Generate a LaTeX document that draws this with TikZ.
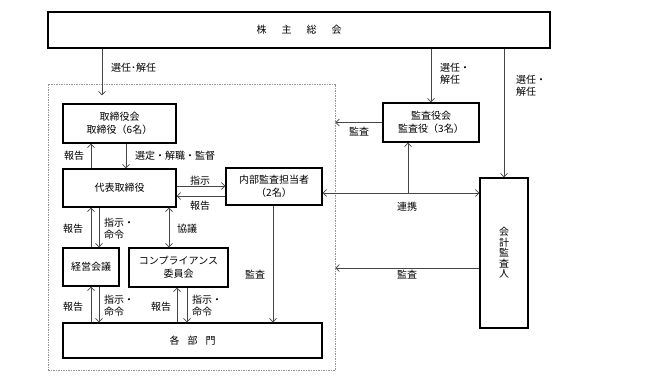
\documentclass[tikz,border=0pt]{standalone}
\usepackage{fontspec}
\setmainfont{Noto Sans CJK JP}
\usetikzlibrary{arrows.meta,positioning,calc}
\definecolor{linegray}{RGB}{70,70,70}
\definecolor{framegray}{RGB}{150,150,150}
\tikzset{
  bx/.style={draw, line width=1.4pt, rectangle, inner sep=1pt, align=center,
    font=\fontsize{10}{13}\selectfont},
  lab/.style={font=\fontsize{10}{12}\selectfont, inner sep=0pt, align=left},
  arr/.style={-{Straight Barb[length=3.5pt,width=7pt]}, linegray, line width=0.7pt},
  dbl/.style={{Straight Barb[length=3.5pt,width=7pt]}-{Straight Barb[length=3.5pt,width=7pt]},
    linegray, line width=0.7pt},
  frm/.style={draw=framegray, dash pattern=on 1.5pt off 1pt, line width=0.8pt},
}

\begin{document}
\begin{tikzpicture}[x=1pt,y=-1pt]
\useasboundingbox (0,0) rectangle (647,382);
% boxes
\node[bx, minimum width=502pt, minimum height=36pt] (soukai) at (299,30)
  {株\hspace{1.5em}主\hspace{1.5em}総\hspace{1.5em}会};
\node[frm, minimum width=287pt, minimum height=286pt] (frame) at (191.5,227) {};
\node[bx, minimum width=113pt, minimum height=39pt] (tor) at (119.5,123.5) {取締役会\\取締役（6名）};
\node[bx, minimum width=113pt, minimum height=38pt] (dai) at (119.5,188) {代表取締役};
\node[bx, minimum width=96pt, minimum height=37pt] (nai) at (274,186.5) {内部監査担当者\\（2名）};
\node[bx, minimum width=96pt, minimum height=39pt] (kan) at (431,122.5) {監査役会\\監査役（3名）};
\node[bx, minimum width=48pt, minimum height=150pt, font=\fontsize{10}{10.5}\selectfont]
  (kai) at (504,253) {会\\計\\監\\査\\人};
\node[bx, minimum width=56pt, minimum height=38pt] (kei) at (91,267) {経営会議};
\node[bx, minimum width=99pt, minimum height=39pt] (com) at (178.5,267.5) {コンプライアンス\\委員会};
\node[bx, minimum width=259pt, minimum height=35pt] (kak) at (192.5,340.5)
  {各\hspace{0.8em}部\hspace{0.8em}門};
% columns and rows
\coordinate (xa) at (91,0);
\coordinate (xb) at (99,0);
\coordinate (xc) at (102,0);
\coordinate (xd) at (126,0);
\coordinate (xe) at (169,0);
\coordinate (xf) at (177,0);
\coordinate (xg) at (187,0);
\coordinate (xh) at (273,0);
\coordinate (xi) at (408,0);
\coordinate (ya) at (0,186);
\coordinate (yb) at (0,196);
\coordinate (yc) at (0,193);
\coordinate (yd) at (0,268);
% connectors
\draw[arr, shorten >=8pt] (soukai.south -| xc) -- (tor.north -| xc);
\draw[arr] (soukai.south -| kan.north) -- (kan.north);
\draw[arr] (soukai.south -| kai.north) -- (kai.north);
\draw[arr] (kan.west) -- (frame.east |- kan.west);
\draw[dbl] (nai.east |- yc) -- (kai.west |- yc);
\draw[arr] (xi |- yc) -- (kan.south -| xi);
\draw[arr] (kai.west |- yd) -- (frame.east |- yd);
\draw[arr] (dai.north -| xa) -- (tor.south -| xa);
\draw[arr] (tor.south -| xd) -- (dai.north -| xd);
\draw[arr] (dai.east |- ya) -- (nai.west |- ya);
\draw[arr] (nai.west |- yb) -- (dai.east |- yb);
\draw[arr] (kei.north -| xa) -- (dai.south -| xa);
\draw[arr] (dai.south -| xb) -- (kei.north -| xb);
\draw[dbl] (dai.south -| xe) -- (com.north -| xe);
\draw[arr] (kak.north -| xa) -- (kei.south -| xa);
\draw[arr] (kei.south -| xb) -- (kak.north -| xb);
\draw[arr] (kak.north -| xf) -- (com.south -| xf);
\draw[arr] (com.south -| xg) -- (kak.north -| xg);
\draw[arr] (nai.south -| xh) -- (kak.north -| xh);
% labels
\node[lab, anchor=west] (l1) at (111,68) {選任･解任};
\node[lab, anchor=west] (l2) at (440,74) {選任・\\解任};
\node[lab, anchor=west] (l3) at (516,86) {選任・\\解任};
\node[lab] (l4) at (359,132) {監査};
\node[lab] (l5) at (407,207) {連携};
\node[lab] (l6) at (407,275) {監査};
\node[lab] (l7) at (74,156) {報告};
\node[lab, anchor=west] (l8) at (135,156) {選定・解職・監督};
\node[lab] (l9) at (200,181) {指示};
\node[lab] (l10) at (200,206) {報告};
\node[lab] (l11) at (73,229) {報告};
\node[lab, anchor=west] (l12) at (104,229) {指示・\\命令};
\node[lab, anchor=west] (l13) at (177,229) {協議};
\node[lab] (l14) at (73,307) {報告};
\node[lab, anchor=west] (l15) at (104,306) {指示・\\命令};
\node[lab] (l16) at (161,307) {報告};
\node[lab, anchor=west] (l17) at (192,306) {指示・\\命令};
\node[lab] (l18) at (255,275) {監査};
\end{tikzpicture}
\end{document}
